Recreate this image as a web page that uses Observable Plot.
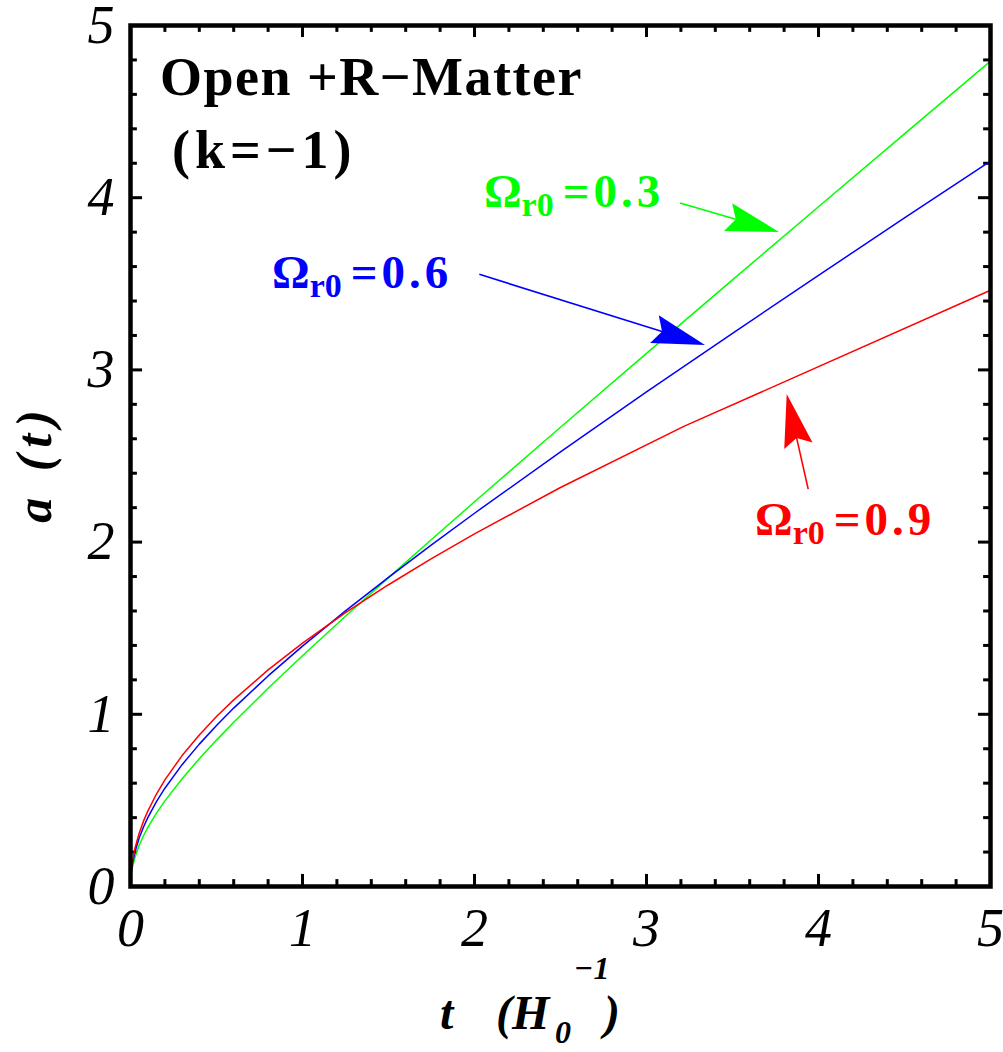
<!DOCTYPE html>
<html><head><meta charset="utf-8">
<script src="https://cdn.jsdelivr.net/npm/d3@7"></script>
<script src="https://cdn.jsdelivr.net/npm/@observablehq/plot@0.6"></script>
<style>
html,body{margin:0;padding:0;background:#fff;}
#chart svg{display:block;overflow:visible}
</style></head><body><div id="chart"></div>
<script>
// time grid (units of 1/H0)
const tGrid = [0, 0.002, 0.005, 0.01, 0.025, 0.05, 0.075, 0.1, 0.15, 0.2, 0.3, 0.4, 0.5, 0.6, 0.8, 1.0, 1.25, 1.5, 1.75, 2.0, 2.5, 3.0, 3.5, 4.0, 4.5, 5.0];
// Omega_r0 = 0.3 (green)
const aGreen = [0, 0.0468, 0.0741, 0.1050, 0.1668, 0.2377, 0.2934, 0.3414, 0.4243, 0.4971, 0.6258, 0.7417, 0.8501, 0.9536, 1.1508, 1.3400, 1.5694, 1.7939, 2.0151, 2.2340, 2.6671, 3.0962, 3.5226, 3.9474, 4.3709, 4.7935];
// Omega_r0 = 0.6 (blue)
const aBlue = [0, 0.0557, 0.0881, 0.1246, 0.1974, 0.2801, 0.3441, 0.3986, 0.4913, 0.5708, 0.7076, 0.8268, 0.9352, 1.0361, 1.2228, 1.3961, 1.6005, 1.7955, 1.9840, 2.1676, 2.5245, 2.8719, 3.2128, 3.5492, 3.8822, 4.2126];
// Omega_r0 = 0.9 (red), sampled more coarsely at late times
const tRed = [0, 0.002, 0.005, 0.01, 0.025, 0.05, 0.075, 0.1, 0.15, 0.2, 0.3, 0.4, 0.5, 0.6, 0.8, 1.0, 1.25, 1.5, 1.75, 2.0, 2.5, 3.22, 5.0];
const aRed = [0, 0.0616, 0.0974, 0.1378, 0.2179, 0.3084, 0.3780, 0.4367, 0.5356, 0.6193, 0.7604, 0.8803, 0.9868, 1.0837, 1.2577, 1.4133, 1.5900, 1.7524, 1.9044, 2.0481, 2.3170, 2.6733, 3.4622];

const seriesLabels = ["0.3", "0.6", "0.9"];
const seriesColors = ["#00ff00", "#0000ff", "#ff0000"];

const xTicks = [0, 1, 2, 3, 4, 5];
const yTicks = [0, 1, 2, 3, 4, 5];
const minorTicks = d3.range(0, 5.001, 0.2).filter(v => Math.abs(v - Math.round(v)) > 1e-6);

const green = tGrid.map((t, i) => ({t, a: aGreen[i]}));
const blue = tGrid.map((t, i) => ({t, a: aBlue[i]}));
const red = tRed.map((t, i) => ({t, a: aRed[i]}));

const serif = "'Liberation Serif', 'Times New Roman', serif";
const MAJ = 0.07, MIN = 0.04, TW = 3;

const plot = Plot.plot({
  width: 1003,
  height: 1052,
  marginLeft: 130,
  marginRight: 13,
  marginTop: 25,
  marginBottom: 166,
  style: {background: "#fff", fontFamily: serif, overflow: "visible"},
  x: {domain: [0, 5]},
  y: {domain: [0, 5]},
  marks: [
    Plot.axisX({ticks: xTicks, tickSize: 0, tickPadding: 21, fontSize: 54, fontStyle: "italic", fontFamily: serif, label: null, tickFormat: d => String(d), fill: "#000"}),
    Plot.axisY({ticks: yTicks, tickSize: 0, tickPadding: 16, fontSize: 54, fontStyle: "italic", fontFamily: serif, label: null, tickFormat: d => String(d), fill: "#000"}),
    // inward ticks on all four sides
    Plot.ruleX(xTicks, {x: d => d, y1: 0, y2: MAJ, stroke: "#000", strokeWidth: TW}),
    Plot.ruleX(minorTicks, {x: d => d, y1: 0, y2: MIN, stroke: "#000", strokeWidth: TW}),
    Plot.ruleX(xTicks, {x: d => d, y1: 5, y2: 5 - MAJ, stroke: "#000", strokeWidth: TW}),
    Plot.ruleX(minorTicks, {x: d => d, y1: 5, y2: 5 - MIN, stroke: "#000", strokeWidth: TW}),
    Plot.ruleY(yTicks, {y: d => d, x1: 0, x2: MAJ, stroke: "#000", strokeWidth: TW}),
    Plot.ruleY(minorTicks, {y: d => d, x1: 0, x2: MIN, stroke: "#000", strokeWidth: TW}),
    Plot.ruleY(yTicks, {y: d => d, x1: 5, x2: 5 - MAJ, stroke: "#000", strokeWidth: TW}),
    Plot.ruleY(minorTicks, {y: d => d, x1: 5, x2: 5 - MIN, stroke: "#000", strokeWidth: TW}),
    Plot.line(green, {x: "t", y: "a", stroke: seriesColors[0], strokeWidth: 1.5}),
    Plot.line(blue, {x: "t", y: "a", stroke: seriesColors[1], strokeWidth: 1.5}),
    Plot.line(red, {x: "t", y: "a", stroke: seriesColors[2], strokeWidth: 1.5}),
    Plot.frame({stroke: "#000", strokeWidth: 4.5})
  ]
});
document.getElementById("chart").appendChild(plot);

const sx = plot.scale("x"), sy = plot.scale("y");
const svg = d3.select(plot);
const g = svg.append("g").attr("text-anchor", "start");

// Title inside the frame
g.append("text").attr("x", 160).attr("y", 95).attr("text-anchor", "start")
  .attr("font-family", serif).attr("font-weight", "bold").attr("font-size", 54)
  .attr("letter-spacing", 1.5).attr("fill", "#000").text("Open +R\u2212Matter");
g.append("text").attr("x", 172).attr("y", 168).attr("text-anchor", "start")
  .attr("font-family", serif).attr("font-weight", "bold").attr("font-size", 54)
  .attr("letter-spacing", 5).attr("fill", "#000").text("(k=\u22121)");

// Series annotations
const annos = [
  {label: seriesLabels[0], color: seriesColors[0], tx: 2.058, ty: 3.943, from: [3.198, 3.966], to: [3.773, 3.798]},
  {label: seriesLabels[1], color: seriesColors[1], tx: 0.826, ty: 3.473, from: [2.031, 3.552], to: [3.343, 3.142]},
  {label: seriesLabels[2], color: seriesColors[2], tx: 3.634, ty: 2.038, from: [3.943, 2.305], to: [3.818, 2.857]}
];
for (const an of annos) {
  const t = g.append("text").attr("x", sx.apply(an.tx)).attr("y", sy.apply(an.ty)).attr("text-anchor", "start")
    .attr("font-family", serif).attr("font-weight", "bold").attr("font-size", 47).attr("fill", an.color);
  t.append("tspan").text("\u03A9");
  t.append("tspan").attr("font-size", 34).attr("dy", 9).text("r0");
  t.append("tspan").attr("dy", -9).attr("dx", 9).attr("letter-spacing", 4).text("=" + an.label);
  // arrow
  const X1 = sx.apply(an.from[0]), Y1 = sy.apply(an.from[1]);
  const X2 = sx.apply(an.to[0]), Y2 = sy.apply(an.to[1]);
  const dx = X2 - X1, dy = Y2 - Y1, L = Math.hypot(dx, dy);
  const ux = dx / L, uy = dy / L, px = -uy, py = ux;
  const hl = 53, hw = 14.5, notch = 45;
  g.append("line").attr("x1", X1).attr("y1", Y1).attr("x2", X2 - ux * notch).attr("y2", Y2 - uy * notch)
    .attr("stroke", an.color).attr("stroke-width", 1.6);
  const pts = [[X2, Y2], [X2 - ux * hl + px * hw, Y2 - uy * hl + py * hw], [X2 - ux * notch, Y2 - uy * notch], [X2 - ux * hl - px * hw, Y2 - uy * hl - py * hw]];
  g.append("polygon").attr("points", pts.map(p => p.join(",")).join(" ")).attr("fill", an.color);
}

// y-axis title
g.append("text").attr("transform", "translate(51,463) rotate(-90)")
  .attr("text-anchor", "middle").attr("font-family", serif).attr("font-weight", "bold").attr("font-style", "italic")
  .attr("font-size", 50).attr("letter-spacing", 7).attr("fill", "#000").text("a (t)");

// x-axis title
const xl = g.append("text").attr("text-anchor", "start").attr("font-family", serif).attr("font-weight", "bold").attr("font-style", "italic")
  .attr("font-size", 48).attr("fill", "#000");
xl.append("tspan").attr("x", 440).attr("y", 1029).text("t");
xl.append("tspan").attr("x", 496).attr("y", 1029).text("(H");
xl.append("tspan").attr("x", 555).attr("y", 1043).attr("font-size", 32).text("0");
xl.append("tspan").attr("x", 574).attr("y", 979).attr("font-size", 32).text("\u22121");
xl.append("tspan").attr("x", 604).attr("y", 1029).text(")");
</script></body></html>
